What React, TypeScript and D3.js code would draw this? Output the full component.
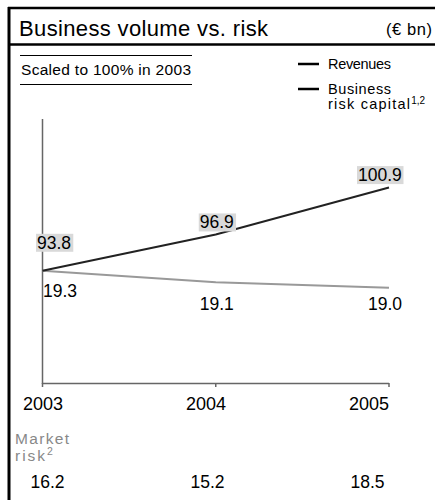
import React from "react";
import * as d3 from "d3";

const years = ["2003", "2004", "2005"];
const revenues = [93.8, 96.9, 100.9];
const riskCapital = [19.3, 19.1, 19.0];
const marketRisk = [16.2, 15.2, 18.5];

const W = 435;
const H = 500;
const FONT = "'Liberation Sans', Arial, sans-serif";

export default function App() {
  const x = d3.scalePoint<string>().domain(years).range([42.5, 389]);
  const y = d3.scaleLinear().domain([89.7, 113.9]).range([384, 118]);

  const revPct = revenues.map((v) => (v / revenues[0]) * 100);
  const capPct = riskCapital.map((v) => (v / riskCapital[0]) * 100);

  const line = d3
    .line<number>()
    .x((_, i) => x(years[i]) as number)
    .y((d) => y(d));

  // label placement offsets (relative to point)
  const revLabelDx = [-5.5, -16, -31];
  const revLabelDy = [-22, -6, -6.5];
  const capLabelDx = [0.5, -16, -21];
  const capLabelDy = [26, 28, 22];
  const tickLabelX = [43, 206, 369];
  const mrX = [47.5, 207.5, 367.5];

  return (
    <svg
      width={W}
      height={H}
      style={{ position: "absolute", left: 0, top: 0, fontFamily: FONT }}
    >
      <rect width={W} height={H} fill="#fff" />
      {/* frame */}
      <line x1={9} x2={9} y1={7} y2={H} stroke="#000" strokeWidth={3} />
      <line x1={8} x2={W} y1={8} y2={8} stroke="#000" strokeWidth={2.5} />
      <line x1={8} x2={W} y1={44.5} y2={44.5} stroke="#000" strokeWidth={2.5} />
      <text
        x={19}
        y={36}
        fontSize={22}
        fill="#000"
        textLength={249}
        lengthAdjust="spacing"
      >
        Business volume vs. risk
      </text>
      <text
        x={386}
        y={35}
        fontSize={16.5}
        fill="#000"
        textLength={46}
        lengthAdjust="spacing"
      >
        (€ bn)
      </text>

      {/* subtitle */}
      <line x1={20} x2={192} y1={55.5} y2={55.5} stroke="#000" strokeWidth={1} />
      <line x1={20} x2={192} y1={84.5} y2={84.5} stroke="#000" strokeWidth={1} />
      <text
        x={21}
        y={75}
        fontSize={15.5}
        fill="#000"
        textLength={170}
        lengthAdjust="spacing"
      >
        Scaled to 100% in 2003
      </text>

      {/* legend */}
      <line x1={298} x2={319} y1={64} y2={64} stroke="#000" strokeWidth={2.5} />
      <text
        x={328}
        y={68.5}
        fontSize={14.5}
        fill="#000"
        textLength={63}
        lengthAdjust="spacing"
      >
        Revenues
      </text>
      <line x1={298} x2={319} y1={89} y2={89} stroke="#000" strokeWidth={2.5} />
      <text
        x={328}
        y={93.5}
        fontSize={14.5}
        fill="#000"
        textLength={63}
        lengthAdjust="spacing"
      >
        Business
      </text>
      <text x={328} y={108.5} fontSize={14.5} fill="#000">
        <tspan textLength={82} lengthAdjust="spacing">
          risk capital
        </tspan>
        <tspan fontSize={10} dy={-5}>
          1,2
        </tspan>
      </text>

      {/* axes */}
      <line
        x1={x("2003")}
        x2={x("2003")}
        y1={119}
        y2={384}
        stroke="#666"
        strokeWidth={1.5}
      />
      <line
        x1={x("2003")}
        x2={x("2005")}
        y1={383.5}
        y2={383.5}
        stroke="#666"
        strokeWidth={1.5}
      />
      {years.map((yr) => (
        <line
          key={"t" + yr}
          x1={x(yr)}
          x2={x(yr)}
          y1={383}
          y2={387}
          stroke="#666"
          strokeWidth={1.5}
        />
      ))}
      {years.map((yr, i) => (
        <text
          key={"l" + yr}
          x={tickLabelX[i]}
          y={409.5}
          fontSize={18}
          textAnchor="middle"
          fill="#000"
        >
          {yr}
        </text>
      ))}

      {/* lines */}
      <path d={line(capPct) || ""} fill="none" stroke="#999" strokeWidth={2} />
      <path d={line(revPct) || ""} fill="none" stroke="#222" strokeWidth={2} />

      {/* revenue labels with grey boxes */}
      {revenues.map((v, i) => {
        const px = (x(years[i]) as number) + revLabelDx[i];
        const py = y(revPct[i]) + revLabelDy[i];
        const label = v.toFixed(1);
        const w = label.length * 9.2 + 0.5;
        return (
          <g key={"r" + i}>
            <rect x={px - 1} y={py - 15} width={w} height={18} fill="#d9d9d9" />
            <text x={px} y={py} fontSize={17.5} fill="#000">
              {label}
            </text>
          </g>
        );
      })}

      {/* risk capital labels */}
      {riskCapital.map((v, i) => (
        <text
          key={"c" + i}
          x={(x(years[i]) as number) + capLabelDx[i]}
          y={y(capPct[i]) + capLabelDy[i]}
          fontSize={17.5}
          fill="#000"
        >
          {v.toFixed(1)}
        </text>
      ))}

      {/* market risk */}
      <text
        x={15}
        y={443.5}
        fontSize={15.5}
        fill="#888"
        textLength={54}
        lengthAdjust="spacing"
      >
        Market
      </text>
      <text x={15} y={461} fontSize={15.5} fill="#888">
        <tspan textLength={30} lengthAdjust="spacing">
          risk
        </tspan>
        <tspan fontSize={10.5} dy={-6}>
          2
        </tspan>
      </text>
      {marketRisk.map((v, i) => (
        <text
          key={"m" + i}
          x={mrX[i]}
          y={488}
          fontSize={17.5}
          textAnchor="middle"
          fill="#000"
        >
          {v.toFixed(1)}
        </text>
      ))}
    </svg>
  );
}
